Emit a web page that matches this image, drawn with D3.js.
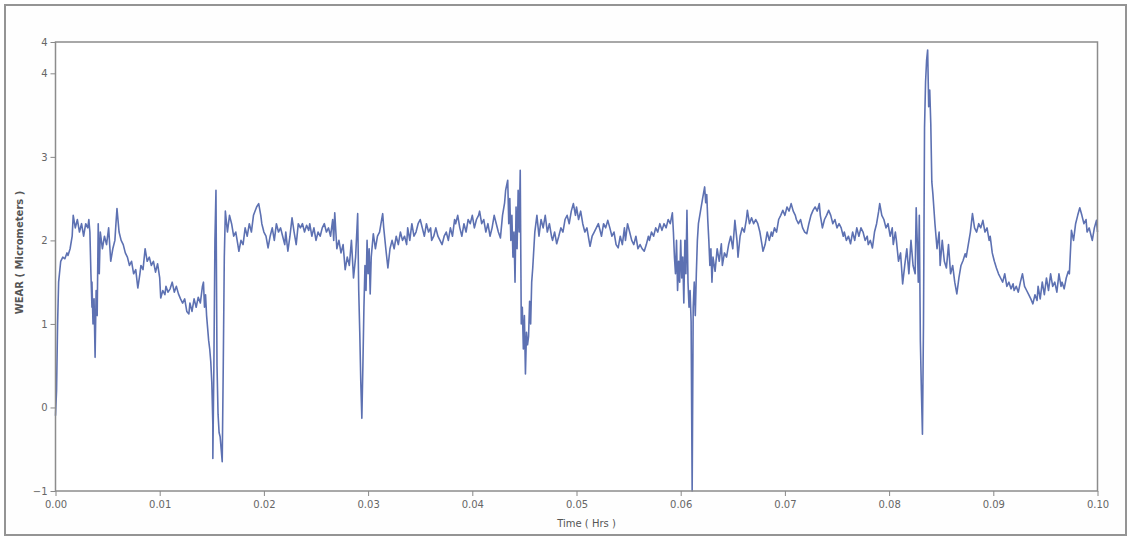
<!DOCTYPE html>
<html>
<head>
<meta charset="utf-8">
<script src="https://cdn.jsdelivr.net/npm/d3@7"></script>
<style>
  html, body { margin: 0; padding: 0; background: #ffffff; }
  svg { display: block; }
  .tick text { font-family: "DejaVu Sans", Verdana, sans-serif; }
</style>
</head>
<body>
<svg id="chart" width="1131" height="539"></svg>
<script>
// Wear trace: [time (hrs), wear (micrometers)]
const wearSamples = [
  [0.0000,-0.10],[0.0001,0.20],[0.0002,1.00],[0.0003,1.50],[0.0005,1.75],[0.0007,1.80],[0.0009,1.78],[0.0011,1.85],
  [0.0012,1.82],[0.0014,1.90],[0.0016,2.05],[0.0017,2.30],[0.0019,2.15],[0.0021,2.25],[0.0023,2.10],[0.0025,2.20],
  [0.0027,2.05],[0.0029,2.20],[0.0031,2.15],[0.0032,2.25],[0.0033,2.10],[0.0034,1.60],[0.0035,1.20],[0.0035,1.50],
  [0.0036,1.00],[0.0037,1.30],[0.0038,0.60],[0.0039,1.40],[0.0040,1.10],[0.0041,2.20],[0.0042,1.60],[0.0043,2.10],
  [0.0045,1.90],[0.0047,2.05],[0.0049,1.95],[0.0051,2.15],[0.0053,1.75],[0.0055,1.90],[0.0057,2.00],[0.0058,2.20],
  [0.0059,2.38],[0.0061,2.10],[0.0063,2.00],[0.0065,1.95],[0.0067,1.85],[0.0069,1.80],[0.0071,1.70],[0.0073,1.75],
  [0.0075,1.60],[0.0077,1.65],[0.0079,1.43],[0.0081,1.60],[0.0082,1.70],[0.0084,1.65],[0.0086,1.90],[0.0088,1.75],
  [0.0090,1.80],[0.0092,1.70],[0.0094,1.75],[0.0096,1.62],[0.0098,1.72],[0.0100,1.55],[0.0101,1.31],[0.0103,1.40],
  [0.0105,1.35],[0.0106,1.45],[0.0108,1.38],[0.0110,1.42],[0.0112,1.50],[0.0114,1.38],[0.0116,1.45],[0.0118,1.36],
  [0.0120,1.30],[0.0122,1.25],[0.0124,1.30],[0.0126,1.15],[0.0128,1.12],[0.0129,1.25],[0.0131,1.15],[0.0133,1.30],
  [0.0135,1.20],[0.0137,1.32],[0.0139,1.25],[0.0141,1.45],[0.0142,1.50],[0.0143,1.20],[0.0144,1.35],[0.0145,1.10],
  [0.0146,0.95],[0.0147,0.80],[0.0148,0.70],[0.0149,0.55],[0.0150,0.30],[0.0151,-0.20],[0.0151,-0.61],[0.0152,0.50],
  [0.0153,2.00],[0.0154,2.60],[0.0155,0.50],[0.0156,-0.08],[0.0157,-0.30],[0.0158,-0.35],[0.0159,-0.50],[0.0160,-0.65],
  [0.0161,0.50],[0.0162,1.80],[0.0163,2.35],[0.0165,2.10],[0.0167,2.30],[0.0169,2.20],
  [0.0171,2.05],[0.0173,2.10],[0.0175,1.95],[0.0176,1.87],[0.0178,2.00],[0.0180,1.95],[0.0182,2.15],[0.0184,2.05],
  [0.0186,2.20],[0.0188,2.10],[0.0190,2.30],[0.0193,2.40],[0.0195,2.44],[0.0197,2.30],[0.0198,2.20],[0.0200,2.10],
  [0.0202,2.05],[0.0204,1.91],[0.0206,2.05],[0.0208,2.15],[0.0210,2.00],[0.0212,2.20],[0.0214,2.10],[0.0216,2.15],
  [0.0218,2.05],[0.0220,1.95],[0.0221,2.10],[0.0223,1.87],[0.0225,2.05],[0.0227,2.27],[0.0229,2.10],[0.0231,1.95],
  [0.0233,2.20],[0.0235,2.15],[0.0237,2.20],[0.0239,2.10],[0.0241,2.18],[0.0243,2.12],[0.0244,2.20],[0.0246,2.05],
  [0.0248,2.15],[0.0250,2.00],[0.0252,2.10],[0.0254,2.05],[0.0256,2.15],[0.0258,2.20],[0.0260,2.10],[0.0262,2.15],
  [0.0264,2.05],[0.0266,2.25],[0.0267,2.00],[0.0268,2.33],[0.0270,1.90],[0.0272,2.00],[0.0274,1.85],[0.0276,1.95],
  [0.0278,1.65],[0.0280,1.80],[0.0282,1.70],[0.0284,2.00],[0.0286,1.55],[0.0288,1.80],[0.0290,2.32],[0.0291,1.40],
  [0.0292,0.90],[0.0293,0.30],[0.0294,-0.13],[0.0295,0.50],[0.0296,1.20],[0.0297,1.70],[0.0298,1.40],[0.0299,2.00],
  [0.0300,1.60],[0.0301,1.90],[0.0302,1.36],[0.0303,1.80],[0.0305,2.08],[0.0307,1.90],[0.0309,2.05],[0.0311,2.10],
  [0.0313,2.25],[0.0314,2.32],[0.0315,2.15],[0.0317,1.90],[0.0319,1.67],[0.0321,1.90],[0.0323,2.00],[0.0325,1.90],
  [0.0327,2.05],[0.0329,1.95],[0.0331,2.10],[0.0333,2.00],[0.0335,2.05],
  [0.0337,1.95],[0.0338,2.15],[0.0340,2.00],[0.0342,2.20],[0.0344,2.05],[0.0346,2.10],[0.0348,2.20],[0.0350,2.25],
  [0.0352,2.15],[0.0354,2.05],[0.0356,2.20],[0.0358,2.10],[0.0360,2.15],[0.0361,2.00],[0.0363,2.05],[0.0365,2.15],
  [0.0367,2.05],[0.0369,2.00],[0.0371,1.95],[0.0373,2.05],[0.0375,2.10],[0.0377,2.00],[0.0379,2.15],[0.0381,2.05],
  [0.0383,2.25],[0.0384,2.20],[0.0386,2.30],[0.0388,2.15],[0.0390,2.05],[0.0392,2.20],[0.0394,2.10],[0.0396,2.25],
  [0.0398,2.20],[0.0400,2.30],[0.0402,2.15],[0.0404,2.25],[0.0406,2.30],[0.0407,2.35],[0.0409,2.20],[0.0411,2.25],
  [0.0413,2.10],[0.0415,2.20],[0.0417,2.05],[0.0419,2.15],[0.0421,2.30],[0.0423,2.20],[0.0425,2.10],[0.0427,2.03],
  [0.0429,2.30],[0.0431,2.45],[0.0432,2.60],[0.0434,2.72],[0.0435,2.20],[0.0436,2.50],[0.0437,2.00],[0.0438,2.30],
  [0.0439,1.80],[0.0440,2.10],[0.0441,1.50],[0.0442,2.40],[0.0443,1.90],[0.0444,2.60],[0.0445,2.10],[0.0446,2.84],
  [0.0447,1.00],[0.0448,1.20],[0.0449,0.70],[0.0450,1.10],[0.0451,0.40],[0.0452,0.90],[0.0453,0.75],[0.0454,0.85],
  [0.0455,1.27],[0.0456,1.00],[0.0457,1.50],[0.0458,1.67],[0.0460,2.10],[0.0462,2.30],[0.0464,2.05],[0.0466,2.25],
  [0.0468,2.15],[0.0470,2.30],[0.0472,2.10],[0.0474,2.20],[0.0476,2.05],[0.0477,2.00],[0.0479,2.10],[0.0481,1.96],
  [0.0483,2.05],[0.0485,2.15],[0.0487,2.10],[0.0489,2.25],[0.0491,2.30],[0.0493,2.20],[0.0495,2.35],[0.0497,2.44],
  [0.0499,2.30],
  [0.0500,2.40],[0.0502,2.25],[0.0504,2.35],[0.0506,2.20],[0.0508,2.10],[0.0510,2.15],[0.0512,2.00],[0.0513,1.93],
  [0.0515,2.05],[0.0517,2.10],[0.0519,2.15],[0.0521,2.20],[0.0523,2.10],[0.0524,2.05],[0.0526,2.20],[0.0528,2.15],
  [0.0530,2.24],[0.0532,2.15],[0.0534,2.05],[0.0536,2.10],[0.0538,1.95],[0.0540,1.91],[0.0542,2.05],[0.0544,1.95],
  [0.0546,2.15],[0.0547,2.00],[0.0549,2.20],[0.0551,2.10],[0.0553,2.00],[0.0555,1.95],[0.0557,2.05],[0.0559,1.90],
  [0.0561,1.95],[0.0563,1.90],[0.0565,1.87],[0.0567,1.95],[0.0569,2.05],[0.0570,2.00],[0.0572,2.10],[0.0574,2.05],
  [0.0576,2.15],[0.0578,2.10],[0.0580,2.20],[0.0582,2.12],[0.0584,2.20],[0.0586,2.15],[0.0588,2.25],[0.0590,2.20],
  [0.0592,2.33],[0.0593,2.10],[0.0594,1.80],[0.0595,1.60],[0.0596,2.00],[0.0597,1.40],[0.0598,1.75],[0.0599,1.50],
  [0.0600,2.00],[0.0601,1.55],[0.0602,1.80],[0.0603,1.25],[0.0604,2.00],[0.0605,1.60],[0.0606,2.36],[0.0607,1.50],
  [0.0608,1.20],[0.0609,1.40],[0.0610,1.03],[0.0611,-1.00],[0.0612,1.20],[0.0613,1.50],[0.0614,1.10],[0.0615,1.60],
  [0.0616,2.00],[0.0617,2.20],[0.0619,2.35],[0.0621,2.50],[0.0623,2.64],[0.0624,2.45],[0.0625,2.55],[0.0626,2.24],
  [0.0627,2.00],[0.0628,1.70],[0.0629,1.90],[0.0630,1.50],[0.0631,1.80],[0.0633,1.63],[0.0635,1.90],[0.0637,1.75],
  [0.0639,1.96],[0.0640,1.70],[0.0642,1.85],[0.0644,1.80],[0.0646,1.95],[0.0648,2.05],[0.0650,1.90],[0.0652,2.24],
  [0.0654,2.00],[0.0655,1.80],[0.0657,2.05],[0.0659,2.15],[0.0661,2.10],[0.0663,2.25],[0.0664,2.36],[0.0666,2.20],
  [0.0668,2.27],[0.0670,2.20],[0.0672,2.25],[0.0674,2.20],[0.0676,2.10],[0.0678,1.95],[0.0679,1.87],[0.0681,1.95],
  [0.0683,2.10],[0.0685,2.00],[0.0687,2.10],[0.0688,2.05],[0.0690,2.15],[0.0692,2.10],[0.0694,2.25],[0.0696,2.30],
  [0.0698,2.36],[0.0700,2.30],[0.0702,2.40],[0.0704,2.35],[0.0706,2.44],[0.0708,2.35],[0.0710,2.30],[0.0711,2.25],
  [0.0713,2.20],[0.0715,2.25],[0.0717,2.15],[0.0719,2.10],[0.0721,2.08],[0.0723,2.20],[0.0725,2.30],[0.0727,2.36],
  [0.0729,2.40],[0.0731,2.35],[0.0733,2.44],[0.0734,2.30],[0.0736,2.15],[0.0738,2.25],[0.0740,2.30],[0.0742,2.36],
  [0.0744,2.30],[0.0746,2.20],[0.0748,2.25],[0.0750,2.15],[0.0752,2.20],[0.0754,2.15],[0.0756,2.05],[0.0757,2.10],
  [0.0759,2.00],[0.0761,2.05],[0.0763,1.96],[0.0765,2.10],[0.0767,2.00],[0.0769,2.15],[0.0771,2.05],[0.0773,2.15],
  [0.0775,2.10],[0.0777,2.00],[0.0779,2.05],[0.0780,1.95],[0.0782,2.00],[0.0784,1.91],[0.0786,2.10],[0.0788,2.20],
  [0.0790,2.35],[0.0791,2.44],[0.0793,2.30],[0.0795,2.25],[0.0797,2.15],[0.0799,2.20],[0.0801,2.05],[0.0803,2.15],
  [0.0804,1.95],[0.0806,2.10],[0.0807,2.00],[0.0809,1.75],[0.0811,1.85],[0.0813,1.48],[0.0815,1.70],[0.0817,1.90],
  [0.0819,1.60],[0.0821,2.00],[0.0823,1.70],[0.0825,1.60],[0.0826,2.39],[0.0827,2.00],[0.0828,1.50],[0.0829,2.30],
  [0.0830,0.80],[0.0831,0.20],[0.0832,-0.32],[0.0833,1.00],[0.0834,3.35],[0.0835,3.90],[0.0836,4.16],[0.0837,4.28],
  [0.0838,3.60],[0.0839,3.80],[0.0840,3.40],[0.0841,2.70],[0.0842,2.56],
  [0.0844,2.20],[0.0846,1.90],[0.0848,2.10],[0.0849,1.70],[0.0851,2.00],[0.0853,1.75],[0.0855,1.67],[0.0857,1.95],
  [0.0859,1.60],[0.0861,1.70],[0.0863,1.50],[0.0865,1.36],[0.0867,1.55],[0.0869,1.70],[0.0871,1.76],[0.0873,1.84],
  [0.0874,1.80],[0.0876,1.95],[0.0878,2.10],[0.0880,2.32],[0.0882,2.15],[0.0884,2.10],[0.0886,2.20],[0.0888,2.15],
  [0.0890,2.24],[0.0892,2.10],[0.0894,2.15],[0.0896,2.00],[0.0897,2.05],[0.0899,1.85],[0.0901,1.75],[0.0903,1.67],
  [0.0905,1.60],[0.0907,1.55],[0.0909,1.50],[0.0911,1.60],[0.0913,1.45],[0.0915,1.50],[0.0917,1.42],[0.0919,1.48],
  [0.0920,1.40],[0.0922,1.45],[0.0924,1.38],[0.0926,1.50],[0.0928,1.60],[0.0930,1.45],[0.0932,1.40],[0.0934,1.35],
  [0.0936,1.30],[0.0938,1.24],[0.0940,1.35],[0.0942,1.28],[0.0943,1.45],[0.0945,1.30],[0.0947,1.50],[0.0949,1.35],
  [0.0951,1.55],[0.0953,1.40],[0.0955,1.60],[0.0957,1.45],[0.0959,1.50],[0.0961,1.38],[0.0963,1.60],[0.0965,1.45],
  [0.0966,1.50],[0.0968,1.42],[0.0970,1.55],[0.0972,1.63],[0.0973,1.60],[0.0975,2.12],[0.0977,2.00],[0.0979,2.20],
  [0.0981,2.30],[0.0983,2.39],[0.0985,2.30],[0.0987,2.20],[0.0989,2.25],[0.0990,2.10],[0.0992,2.15],[0.0994,2.05],
  [0.0995,2.00],[0.0997,2.15],[0.0999,2.24],[0.1000,2.10]
];

// Axis setup
const timeDomain = [0, 0.10];
const wearDomain = [-1, 4.375];
const timeTicks = [0, 0.01, 0.02, 0.03, 0.04, 0.05, 0.06, 0.07, 0.08, 0.09, 0.10];
const wearTicks = [-1, 0, 1, 2, 3, 4, 4.375];
const xTitle = "Time ( Hrs )";
const yTitle = "WEAR ( Micrometers )";

const svg = d3.select("#chart");
const W = 1131, H = 539;
const plot = { left: 55.5, right: 1097.5, top: 42, bottom: 491 };

// Outer frame
svg.append("rect")
  .attr("x", 5).attr("y", 5)
  .attr("width", W - 10).attr("height", H - 9)
  .attr("fill", "#fefefe")
  .attr("stroke", "#949494").attr("stroke-width", 2);

const x = d3.scaleLinear().domain(timeDomain).range([plot.left, plot.right]);
const y = d3.scaleLinear().domain(wearDomain).range([plot.bottom, plot.top]);

// Plot area background
svg.append("rect")
  .attr("x", plot.left).attr("y", plot.top)
  .attr("width", plot.right - plot.left).attr("height", plot.bottom - plot.top)
  .attr("fill", "#ffffff");

// Trace
svg.append("path")
  .datum(wearSamples)
  .attr("fill", "none")
  .attr("stroke", "#5d71b2")
  .attr("stroke-width", 1.6)
  .attr("stroke-linejoin", "round")
  .attr("d", d3.line().x(d => x(d[0])).y(d => y(d[1])));

// Plot frame
svg.append("rect")
  .attr("x", plot.left).attr("y", plot.top)
  .attr("width", plot.right - plot.left).attr("height", plot.bottom - plot.top)
  .attr("fill", "none")
  .attr("stroke", "#8c8c8c").attr("stroke-width", 1.5);

// X axis
const xAxis = svg.append("g")
  .attr("transform", `translate(0,${plot.bottom})`)
  .call(d3.axisBottom(x).tickValues(timeTicks).tickFormat(d3.format(".2f")).tickSize(5).tickPadding(5));
xAxis.select(".domain").remove();
xAxis.selectAll("line").attr("stroke", "#888");
xAxis.selectAll("text").attr("fill", "#666").attr("font-size", 10);

// Y axis
const yAxis = svg.append("g")
  .attr("transform", `translate(${plot.left},0)`)
  .call(d3.axisLeft(y).tickValues(wearTicks).tickFormat(d3.format(".0f")).tickSize(5).tickPadding(3));
yAxis.select(".domain").remove();
yAxis.selectAll("line").attr("stroke", "#888");
yAxis.selectAll("text").attr("fill", "#666").attr("font-size", 10);

// Axis titles
svg.append("text")
  .attr("x", (plot.left + plot.right) / 2 + 10)
  .attr("y", 527)
  .attr("text-anchor", "middle")
  .attr("font-family", "DejaVu Sans, Verdana, sans-serif")
  .attr("font-size", 10)
  .attr("fill", "#555")
  .text(xTitle);

svg.append("text")
  .attr("transform", `translate(23,${(plot.top + plot.bottom) / 2 - 14}) rotate(-90)`)
  .attr("text-anchor", "middle")
  .attr("font-family", "DejaVu Sans, Verdana, sans-serif")
  .attr("font-size", 10)
  .attr("font-weight", "bold")
  .attr("fill", "#555")
  .text(yTitle);
</script>
</body>
</html>
